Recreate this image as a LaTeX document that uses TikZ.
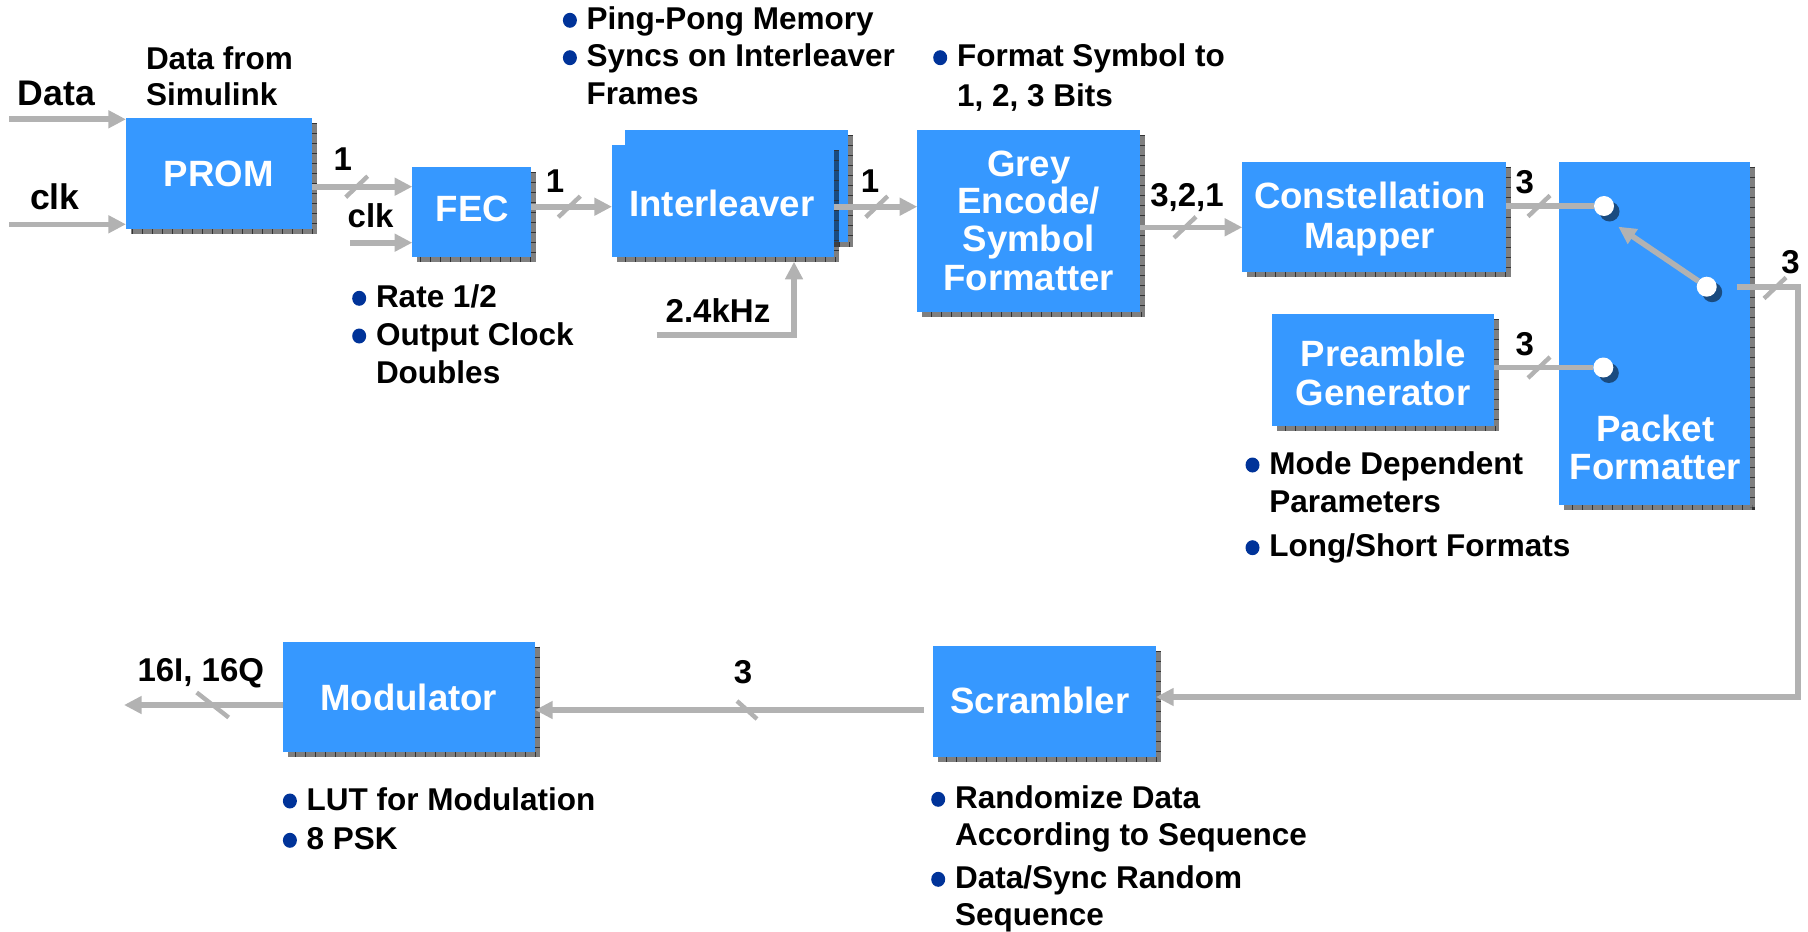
\documentclass[tikz,border=0pt]{standalone}
\usepackage{fontspec}
\setmainfont{Liberation Sans}
\usetikzlibrary{arrows.meta,shadows,calc}
\definecolor{boxblue}{RGB}{54,152,255}
\definecolor{arrgray}{RGB}{178,178,178}
\definecolor{bdot}{RGB}{0,51,153}
\tikzset{
  every node/.style={inner sep=0pt, outer sep=0pt},
  box/.style 2 args={draw=none, fill=boxblue, rectangle, minimum width=#1*0.5pt, minimum height=#2*0.5pt,
    drop shadow={shadow xshift=2.5pt, shadow yshift=-2.5pt, fill=black, opacity=0.5}},
  shtick/.style={draw=black!80, line width=2.5pt, dash pattern=on 0.45pt off 4.55pt},
  boxtxt/.style={text=white, font=\bfseries\fontsize{18.3pt}{19pt}\selectfont, anchor=base},
  lbl/.style={font=\bfseries\fontsize{16.5pt}{18pt}\selectfont, anchor=base},
  bigl/.style={font=\bfseries\fontsize{17.8pt}{19pt}\selectfont, anchor=base west},
  bul/.style={font=\bfseries\fontsize{15.75pt}{18pt}\selectfont, anchor=base west},
  arr/.style={draw=arrgray, line width=2.8pt, -{Triangle[length=8.8pt, width=8.5pt]}},
  line/.style={draw=arrgray, line width=2.8pt},
  slash/.style={draw=arrgray, line width=2.2pt},
  dot/.style={circle, fill=white, minimum size=10pt,
    drop shadow={shadow xshift=2.75pt, shadow yshift=-2.75pt, fill=black, opacity=0.5}}
}
\newcommand\shticks[1]{\draw[shtick] ([xshift=1.25pt,yshift=-2.5pt]#1.north east) -- ([xshift=1.25pt,yshift=-1.25pt]#1.south east) -- ([xshift=2.5pt,yshift=-1.25pt]#1.south west);}
\newcommand\slf[4]{\draw[slash] ({#1-#3},{#2+#4}) -- ({#1+#3},{#2-#4});}
\newcommand\slb[4]{\draw[slash] ({#1-#3},{#2-#4}) -- ({#1+#3},{#2+#4});}
\newcommand\bitem[4]{\node[bul] (#1) at (#2,#3) {#4}; \fill[bdot] ([xshift=-8.4pt,yshift=4.5pt]#1.base west) ellipse (3.5pt and 3.75pt);}
\newcommand\bline[4]{\node[bul] (#1) at (#2,#3) {#4};}
\begin{document}
\begin{tikzpicture}[x=0.5pt, y=-0.5pt]
\useasboundingbox (0,0) rectangle (1808,931);

% ---------- boxes ----------
\node[box={185.7}{111}] (prom) at (218.85,173.8) {};
\shticks{prom}
\node[box={118.7}{89.4}] (fec) at (471.65,212) {};
\shticks{fec}
\node[box={223.3}{111.7}] (intB) at (736.65,185.85) {};
\shticks{intB}
\node[box={222}{111.7}] (intF) at (723,200.85) {};
\shticks{intF}
\node[box={222.7}{181.7}] (grey) at (1028.65,220.85) {};
\shticks{grey}
\node[box={263.4}{110.6}] (const) at (1374,217) {};
\shticks{const}
\node[box={221.7}{111.4}] (pre) at (1383.15,370) {};
\shticks{pre}
\node[box={190.7}{343.3}] (pkt) at (1654.65,333.35) {};
\shticks{pkt}
\node[box={223}{111}] (scr) at (1044.5,701.5) {};
\shticks{scr}
\node[box={252}{110.6}] (mod) at (409,697) {};
\shticks{mod}

% ---------- box texts ----------
\node[boxtxt] (promt) at (218.8,186.7) {PROM};
\node[boxtxt] (fect) at (472.5,221.7) {FEC};
\node[boxtxt] (intt) at (722,216.7) {Interleaver};
\node[boxtxt] (greyt1) at (1028.7,176) {Grey};
\node[boxtxt] (greyt2) at (1028.7,213.3) {Encode/};
\node[boxtxt] (greyt3) at (1028.7,251.7) {Symbol};
\node[boxtxt] (greyt4) at (1028.7,290.7) {Formatter};
\node[boxtxt] (constt1) at (1370,208.8) {Constellation};
\node[boxtxt] (constt2) at (1370,248.8) {Mapper};
\node[boxtxt] (pret1) at (1383,366.7) {Preamble};
\node[boxtxt] (pret2) at (1383,405) {Generator};
\node[boxtxt] (pktt1) at (1655.3,441) {Packet};
\node[boxtxt] (pktt2) at (1655.3,479.3) {Formatter};
\node[boxtxt] (scrt) at (1040,713.3) {Scrambler};
\node[boxtxt] (modt) at (408.7,710) {Modulator};

% ---------- switch dots ----------
\node[dot] (sw1) at (1604,206) {};
\node[dot] (sw2) at (1603.3,367.5) {};
\node[dot] (sw3) at (1706.7,286.7) {};
\coordinate (swtip) at (1618.3,226.7);

% ---------- free ends ----------
\coordinate (datain) at (9,119.3);
\coordinate (clkin) at (9,224.3);
\coordinate (clk2in) at (350,242.7);
\coordinate (khz) at (656.7,335);
\coordinate (outend) at (124,705);

% ---------- connectors ----------
\draw[arr] (datain) -- (prom.west |- datain);
\draw[arr] (clkin) -- (prom.west |- clkin);
\draw[arr] (prom.east |- 0,186.7) -- (fec.west |- 0,186.7);
\draw[arr] (clk2in) -- (fec.west |- clk2in);
\draw[arr] (fec.east |- 0,206.7) -- (intF.west |- 0,206.7);
\draw[arr] (intF.east |- 0,206.7) -- (grey.west |- 0,206.7);
\draw[arr] (khz) -| ([xshift=35.5pt,yshift=-2.5pt]intF.south);
\draw[arr] (grey.east |- 0,227.3) -- (const.west |- 0,227.3);
\draw[line] (const.east |- sw1) -- (sw1.west);
\draw[line] (pre.east |- sw2) -- (sw2.west);
\draw[arr] (sw3) -- (swtip);
\draw[arr] ([xshift=10pt]sw3.east) -- ++(61,0) |- ([yshift=2.25pt]scr.east);
\draw[arr] ([xshift=-4.5pt,yshift=-4.25pt]scr.west) -- (mod.east |- 0,710);
\draw[arr] (mod.west |- outend) -- (outend);

% ---------- bus slashes ----------
\slf{356.7}{186.7}{11}{10.5}
\slf{569.3}{206.7}{11}{10.5}
\slf{876.7}{206.7}{11}{10.5}
\slf{1185}{227.3}{11}{10.5}
\slf{1539}{206}{11}{10.5}
\slf{1539}{367.5}{11}{10.5}
\slf{1775}{288}{11}{10.5}
\slb{747}{710}{10}{9}
\slb{212.7}{705}{16}{12.5}

% ---------- labels ----------
\node[bigl] (ldata) at (18,105) {Data};
\node[bigl] (lclk) at (30,209.3) {clk};
\node[bul] (lsim1) at (146,70) {Data from};
\node[bul] (lsim2) at (146,105) {Simulink};
\node[lbl] (l1a) at (342.7,170) {1};
\node[lbl, anchor=base west] (lclk2) at (347.7,227.3) {clk};
\node[lbl] (l1b) at (555,192.7) {1};
\node[lbl] (l1c) at (870,192.7) {1};
\node[lbl, anchor=base west] (lkhz) at (665.7,322.7) {2.4kHz};
\node[lbl] (l321) at (1187,206.7) {3,2,1};
\node[lbl] (l3a) at (1524.7,193.3) {3};
\node[lbl] (l3b) at (1524.7,355) {3};
\node[lbl] (l3c) at (1790.5,273.3) {3};
\node[lbl] (l3d) at (743,683) {3};
\node[lbl] (l16) at (200.8,681.7) {16I, 16Q};

% ---------- bullet notes ----------
\bitem{bping}{586.7}{29.3}{Ping-Pong Memory}
\bitem{bsync}{586.7}{66.7}{Syncs on Interleaver}
\bline{bframes}{586.7}{104.3}{Frames}
\bitem{bfmt}{957}{66.7}{Format Symbol to}
\bline{bbits}{957}{106}{1, 2, 3 Bits}
\bitem{brate}{376}{307.3}{Rate 1/2}
\bitem{bout}{376}{345}{Output Clock}
\bline{bdbl}{376}{383}{Doubles}
\bitem{bmode}{1269.3}{474}{Mode Dependent}
\bline{bparam}{1269.3}{512}{Parameters}
\bitem{blong}{1269.3}{556.7}{Long/Short Formats}
\bitem{blut}{306.7}{810}{LUT for Modulation}
\bitem{bpsk}{306.7}{849.3}{8 PSK}
\bitem{brand}{955}{808.3}{Randomize Data}
\bline{bacc}{955}{845}{According to Sequence}
\bitem{bdsr}{955}{888.3}{Data/Sync Random}
\bline{bseq}{955}{925}{Sequence}
\end{tikzpicture}
\end{document}
